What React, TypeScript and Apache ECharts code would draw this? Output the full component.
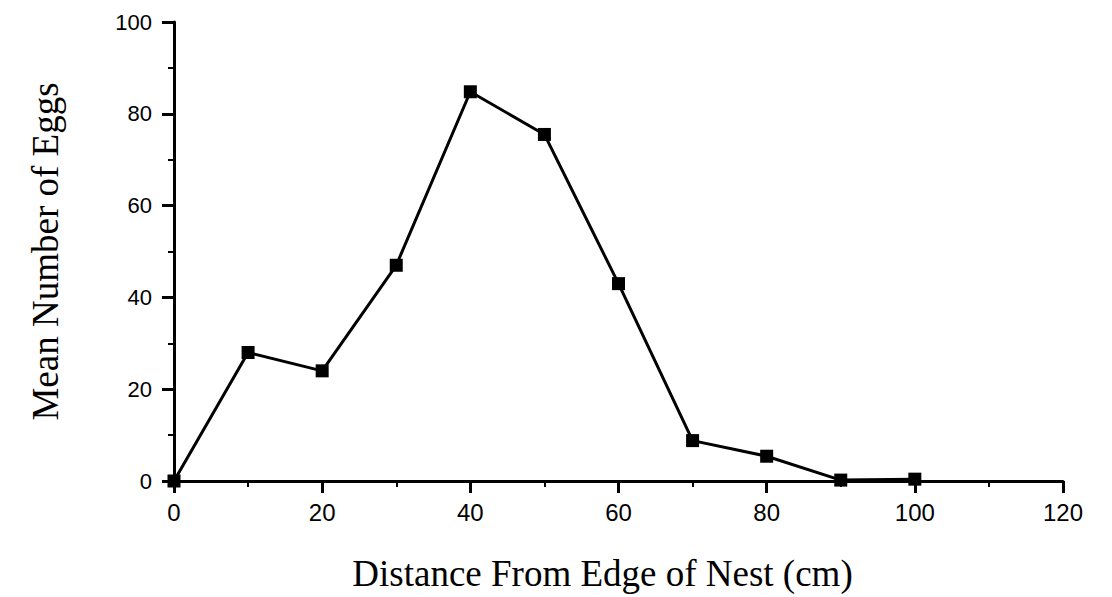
import React, { useEffect, useRef } from "react";
import * as echarts from "echarts";

const distances = [0, 10, 20, 30, 40, 50, 60, 70, 80, 90, 100];
const meanEggs = [0, 28, 24, 47, 84.8, 75.5, 43, 8.8, 5.4, 0.2, 0.4];
const xTitle = "Distance From Edge of Nest (cm)";
const yTitle = "Mean Number of Eggs";

export default function App() {
  const ref = useRef<HTMLDivElement>(null);
  useEffect(() => {
    const chart = echarts.init(ref.current!, null, { renderer: "svg" });
    const axisCommon = {
      axisLine: { show: true, lineStyle: { color: "#000", width: 3 } },
      axisTick: { show: true, length: 12, lineStyle: { color: "#000", width: 3 } },
      minorTick: { show: true, splitNumber: 2, length: 6, lineStyle: { color: "#000", width: 2 } },
      splitLine: { show: false },
    };
    chart.setOption({
      animation: false,
      backgroundColor: "#fff",
      grid: { left: 174, right: 49, top: 22, bottom: 112, containLabel: false },
      xAxis: {
        type: "value",
        min: 0,
        max: 120,
        interval: 20,
        name: xTitle,
        nameLocation: "middle",
        nameGap: 74,
        nameTextStyle: {
          color: "#000",
          fontFamily: "Liberation Serif",
          fontSize: 37,
          padding: [0, 32, 0, 0],
        },
        ...axisCommon,
        axisLabel: {
          color: "#000",
          fontFamily: "Liberation Sans",
          fontSize: 24,
          margin: 19,
        },
      },
      yAxis: {
        type: "value",
        min: 0,
        max: 100,
        interval: 20,
        name: yTitle,
        nameLocation: "middle",
        nameGap: 110,
        nameTextStyle: {
          color: "#000",
          fontFamily: "Liberation Serif",
          fontSize: 37,
        },
        ...axisCommon,
        axisLabel: {
          color: "#000",
          fontFamily: "Liberation Sans",
          fontSize: 22,
          margin: 22,
        },
      },
      series: [
        {
          type: "line",
          data: distances.map((d, i) => [d, meanEggs[i]]),
          symbol: "rect",
          symbolSize: 13,
          lineStyle: { color: "#000", width: 3 },
          itemStyle: { color: "#000" },
          clip: false,
        },
      ],
    });
    return () => chart.dispose();
  }, []);
  return (
    <div
      ref={ref}
      style={{ position: "fixed", left: 0, top: 0, width: 1112, height: 597, background: "#fff" }}
    />
  );
}
